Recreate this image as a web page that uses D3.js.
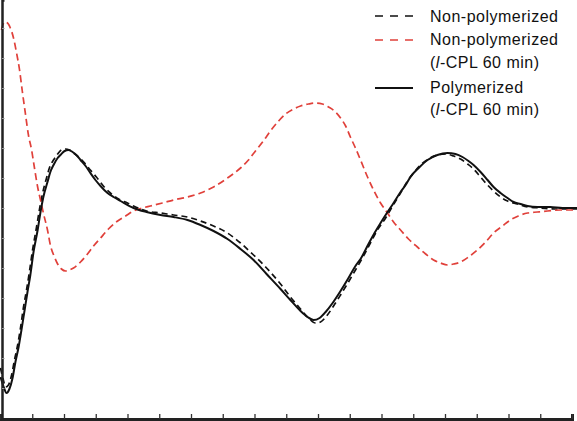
<!DOCTYPE html>
<html><head><meta charset="utf-8">
<script src="https://cdn.jsdelivr.net/npm/d3@7"></script>
<style>
html,body{margin:0;padding:0;background:#fff;}
svg{display:block;}
text{font-family:"Liberation Sans",Arial,Helvetica,sans-serif;}
</style>
</head><body>
<div id="chart"></div>
<script>
// x in axis-tick units, y in arbitrary CD units (0 = baseline)
const polyX = [0,0.09,0.19,0.28,0.38,0.47,0.57,0.66,0.76,0.85,0.94,1.04,1.17,1.26,1.35,1.48,1.57,1.67,1.80,1.89,2.02,2.14,2.27,2.39,2.52,2.68,2.83,2.99,3.15,3.37,3.56,3.78,4.19,4.60,5.04,5.45,5.89,6.30,6.71,7.15,7.56,7.97,8.38,8.82,9.13,9.45,9.67,9.86,10.05,10.24,10.46,10.71,10.96,11.18,11.34,11.59,11.78,11.97,12.19,12.38,12.60,12.76,12.91,13.17,13.45,13.76,14.08,14.33,14.55,14.74,14.90,15.12,15.34,15.53,15.75,15.97,16.16,16.38,16.60,16.91,17.32,17.70,18.17];
const polyY = [-8.45,-8.9,-9.25,-9.05,-8.5,-7.7,-6.95,-6.1,-5.1,-4.2,-3.35,-2.2,-1.1,-0.2,0.55,1.3,1.8,2.15,2.5,2.65,2.85,2.9,2.8,2.65,2.4,2.1,1.75,1.4,1.1,0.75,0.55,0.35,0,-0.2,-0.35,-0.45,-0.6,-0.85,-1.15,-1.55,-2.05,-2.6,-3.3,-4.05,-4.6,-5.15,-5.45,-5.6,-5.5,-5.2,-4.75,-4.15,-3.5,-2.9,-2.55,-1.8,-1.25,-0.75,-0.2,0.25,0.8,1.15,1.55,2.0,2.4,2.65,2.75,2.7,2.55,2.35,2.15,1.8,1.4,1.05,0.75,0.5,0.3,0.2,0.1,0.05,0.05,0,0];

const nonPolyX = [0,0.09,0.16,0.25,0.35,0.44,0.54,0.63,0.72,0.82,0.91,1.01,1.13,1.23,1.32,1.45,1.54,1.67,1.80,1.92,2.05,2.17,2.30,2.46,2.65,2.83,3.02,3.24,3.46,3.72,4.00,4.19,4.60,5.04,5.45,5.89,6.30,6.71,7.15,7.56,7.97,8.38,8.82,9.13,9.45,9.70,9.92,10.08,10.27,10.49,10.71,10.96,11.18,11.40,11.65,11.87,12.13,12.35,12.60,12.82,13.01,13.23,13.48,13.76,14.02,14.27,14.49,14.71,14.90,15.12,15.34,15.53,15.75,15.97,16.28,16.60,17.01,17.48,18.17];
const nonPolyY = [-8,-8.6,-8.95,-8.85,-8.35,-7.6,-6.85,-6.0,-5.0,-4.1,-3.2,-2.1,-1.0,-0.05,0.7,1.5,2.0,2.4,2.7,2.9,2.95,2.9,2.75,2.55,2.25,1.9,1.55,1.1,0.75,0.45,0.25,0.1,-0.15,-0.25,-0.35,-0.45,-0.65,-0.9,-1.25,-1.75,-2.35,-3.0,-3.8,-4.45,-5.05,-5.5,-5.75,-5.7,-5.4,-4.9,-4.35,-3.7,-3.1,-2.5,-1.75,-1.1,-0.5,0.1,0.75,1.35,1.75,2.15,2.45,2.65,2.7,2.6,2.45,2.2,1.95,1.55,1.15,0.85,0.55,0.35,0.2,0.05,0,-0.05,-0.05];

const cplX = [0.03,0.13,0.22,0.31,0.41,0.50,0.60,0.69,0.79,0.88,0.98,1.07,1.17,1.26,1.35,1.48,1.57,1.70,1.80,1.92,2.05,2.17,2.30,2.52,2.74,2.93,3.15,3.40,3.69,3.94,4.19,4.47,4.72,5.10,5.45,5.89,6.30,6.71,7.15,7.56,7.81,8.03,8.28,8.50,8.76,8.98,9.23,9.45,9.70,9.92,10.14,10.33,10.52,10.71,10.87,11.02,11.18,11.34,11.56,11.75,11.97,12.19,12.38,12.60,12.85,13.13,13.39,13.64,13.86,14.08,14.27,14.49,14.74,15.02,15.28,15.53,15.81,16.06,16.31,16.60,16.91,17.23,17.64,18.17];
const cplY = [8.9,9.3,9.25,9.0,8.5,7.8,6.9,5.8,4.65,3.65,2.9,2.0,1.05,0.4,-0.25,-1.1,-1.85,-2.45,-2.8,-3.05,-3.15,-3.1,-3.0,-2.7,-2.3,-1.9,-1.5,-1.05,-0.65,-0.4,-0.15,0,0.1,0.25,0.4,0.55,0.75,1.05,1.5,2.0,2.4,2.85,3.35,3.85,4.35,4.7,4.95,5.1,5.2,5.25,5.2,5.05,4.85,4.5,4.1,3.55,3.0,2.4,1.55,0.9,0.25,-0.25,-0.7,-1.1,-1.55,-1.95,-2.3,-2.6,-2.75,-2.85,-2.8,-2.7,-2.45,-2.1,-1.7,-1.25,-0.9,-0.6,-0.4,-0.25,-0.2,-0.15,-0.1,-0.1];

const xTicks = d3.range(0, 19, 1);
const yTicks = [-9,-7.5,-6,-4.5,-3,-1.5,0,1.5,3,4.5,6,7.5,9];
const legendLabels = [
  ["Non-polymerized"],
  ["Non-polymerized", "(", "l", "-CPL 60 min)"],
  ["Polymerized", "(", "l", "-CPL 60 min)"]
];

const W = 577, H = 421;
const svg = d3.select("#chart").append("svg").attr("width", W).attr("height", H);

const x = d3.scaleLinear().domain([0, 18]).range([0.5, 572]);
const y = d3.scaleLinear().domain([-10.65, 10.4]).range([H, 0]);

const line = d3.line().x(d => x(d[0])).y(d => y(d[1])).curve(d3.curveMonotoneX);
const zip = (a, b) => a.map((v, i) => [v, b[i]]);

const series = [
  {data: zip(nonPolyX, nonPolyY), color: "#111", dash: "6,4", w: 1.7},
  {data: zip(cplX, cplY), color: "#e0403a", dash: "7,4", w: 1.7},
  {data: zip(polyX, polyY), color: "#111", dash: null, w: 2}
];

series.forEach(s => {
  svg.append("path").datum(s.data)
    .attr("d", line).attr("fill", "none")
    .attr("stroke", s.color).attr("stroke-width", s.w)
    .attr("stroke-dasharray", s.dash);
});

// axes
const xAxis = d3.axisBottom(x).tickValues(xTicks).tickSize(-5).tickFormat("");
const gx = svg.append("g").attr("transform", `translate(0,${H - 2})`).call(xAxis);
gx.select(".domain").attr("stroke", "#222").attr("stroke-width", 3);
gx.selectAll(".tick line").attr("stroke", "#333").attr("stroke-width", 1.3);

const yAxis = d3.axisLeft(y).tickValues(yTicks).tickSize(-2.5).tickFormat("");
const gy = svg.append("g").attr("transform", "translate(2,0)").call(yAxis);
gy.select(".domain").attr("stroke", "#222").attr("stroke-width", 2.5);
gy.selectAll(".tick line").attr("stroke", "#999").attr("stroke-width", 1);

// legend
const lg = svg.append("g");
const lx0 = 375, lx1 = 413, tx = 430;
const rows = [
  {ly: 16, ty: [22], s: series[0], lab: legendLabels[0]},
  {ly: 40, ty: [45, 68], s: series[1], lab: legendLabels[1]},
  {ly: 88, ty: [93, 115], s: series[2], lab: legendLabels[2]}
];
rows.forEach(r => {
  lg.append("line").attr("x1", lx0).attr("x2", lx1).attr("y1", r.ly).attr("y2", r.ly)
    .attr("stroke", r.s.color).attr("stroke-width", r.s.w)
    .attr("stroke-dasharray", r.s.dash ? "8,7" : null);
  lg.append("text").attr("x", tx).attr("y", r.ty[0])
    .attr("font-size", 16).attr("letter-spacing", 0.5).attr("fill", "#111")
    .text(r.lab[0]);
  if (r.lab.length > 1) {
    const t = lg.append("text").attr("x", tx).attr("y", r.ty[1])
      .attr("font-size", 16).attr("letter-spacing", 0.5).attr("fill", "#111");
    t.append("tspan").text(r.lab[1]);
    t.append("tspan").attr("font-style", "italic").text(r.lab[2]);
    t.append("tspan").text(r.lab[3]);
  }
});
</script>
</body></html>
